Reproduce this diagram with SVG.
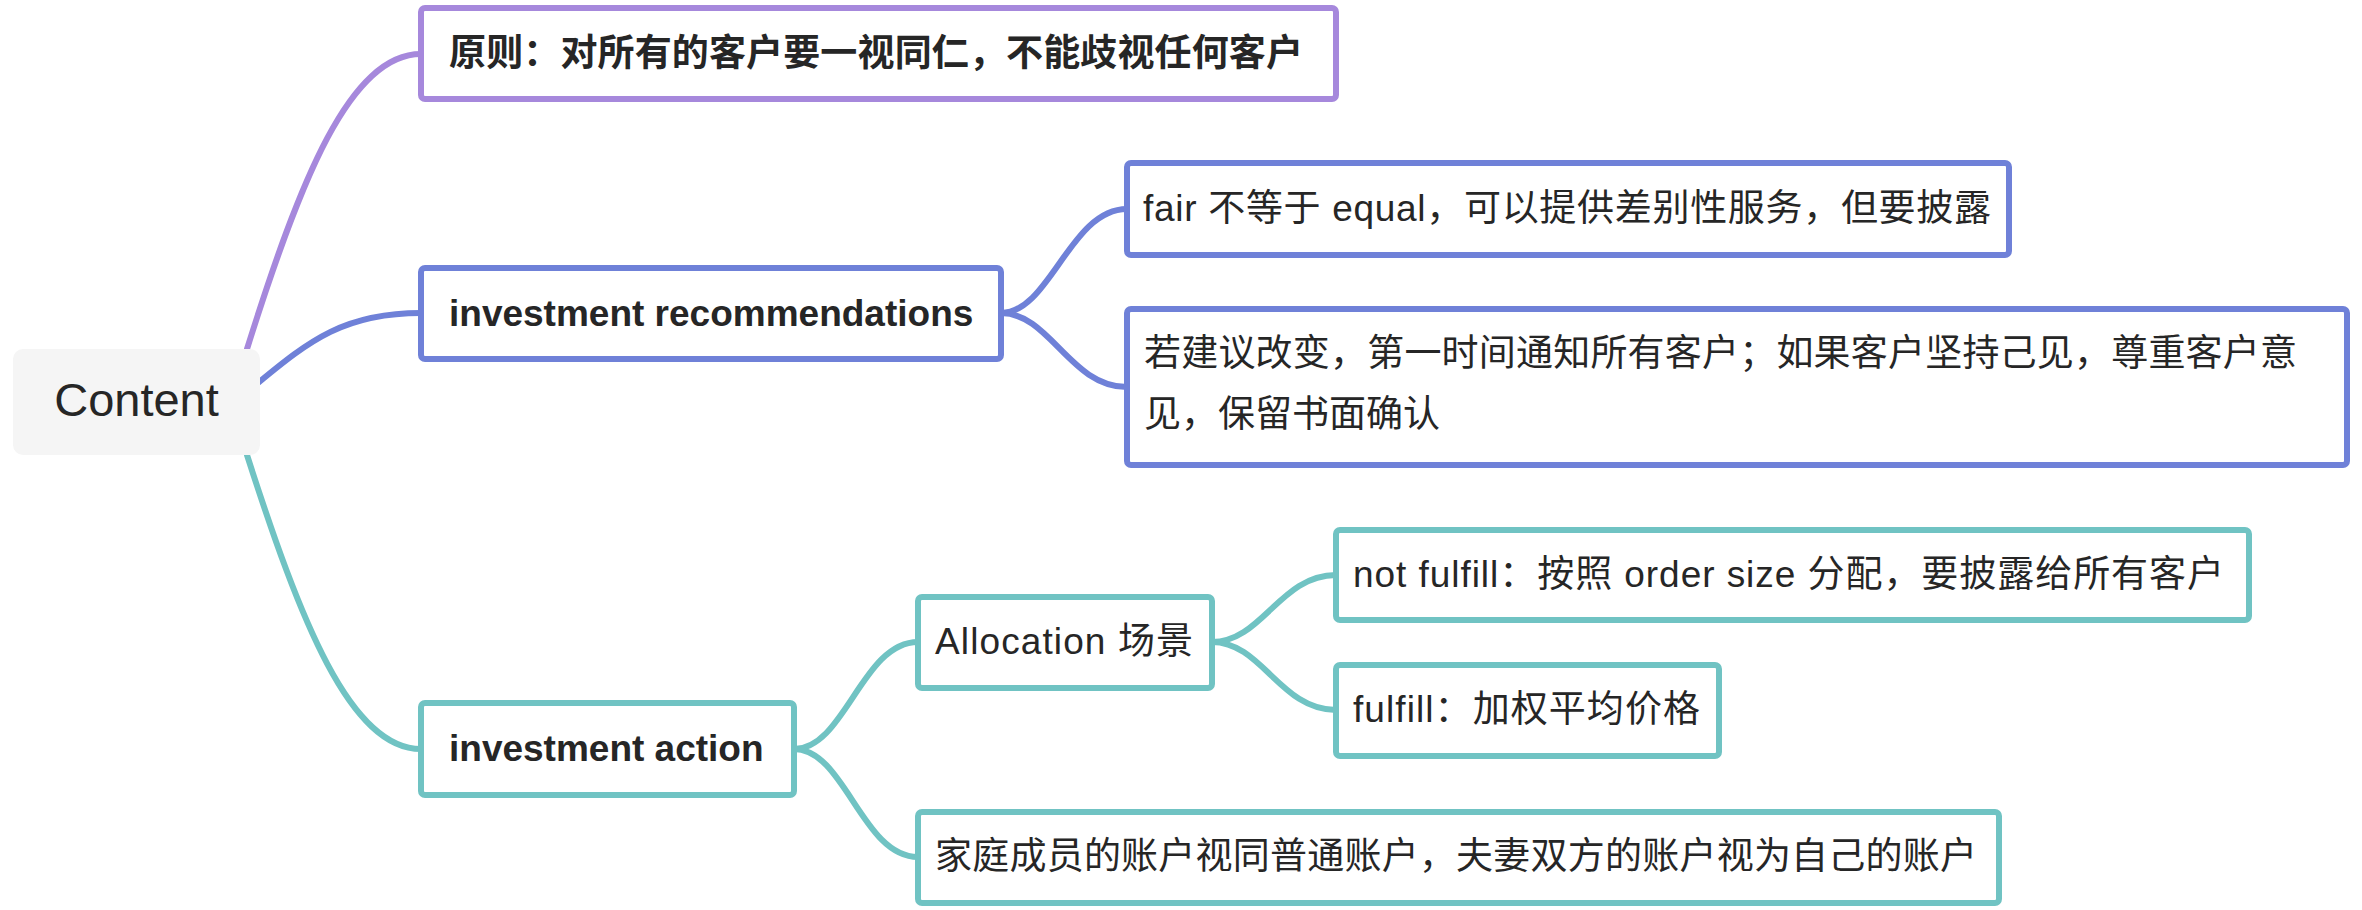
<svg xmlns="http://www.w3.org/2000/svg" width="2362" height="910" viewBox="0 0 2362 910">
<style>
  text { font-family: "Liberation Sans", "Noto Sans CJK SC", sans-serif; fill: #262626; font-size: 37px; }
  .b { font-weight: bold; }
  .root { font-size: 47px; }
  .box { fill: #ffffff; stroke-width: 6; }
  .pu { stroke: #a688dc; }
  .bl { stroke: #6f81d8; }
  .te { stroke: #70c3c3; }
  .ln { fill: none; stroke-width: 6; stroke-linecap: round; }
</style>
<rect width="2362" height="910" fill="#ffffff"/>
<g id="connectors">
  <path class="ln pu" d="M247,349 C300,180 350,54 421,54"/>
  <path class="ln bl" d="M258,383 C310,340 345,313 421,313"/>
  <path class="ln te" d="M247,455 C300,620 350,749 421,749"/>
  <path class="ln bl" d="M1001,313 C1050,313 1070,209 1127,209"/>
  <path class="ln bl" d="M1001,313 C1050,313 1070,387 1127,387"/>
  <path class="ln te" d="M794,749 C845,749 862,642 918,642"/>
  <path class="ln te" d="M794,749 C845,749 862,857 918,857"/>
  <path class="ln te" d="M1212,642 C1262,642 1280,575 1336,575"/>
  <path class="ln te" d="M1212,642 C1262,642 1280,710 1336,710"/>
</g>
<g id="root">
  <rect x="13" y="349" width="247" height="106" rx="10" fill="#f5f5f5"/>
  <text class="root" x="136.5" y="416" text-anchor="middle">Content</text>
</g>
<g id="n-principle">
  <rect class="box pu" x="421" y="8" width="915" height="91" rx="4"/>
  <text class="b" x="449" y="66" textLength="854" lengthAdjust="spacing">原则：对所有的客户要一视同仁，不能歧视任何客户</text>
</g>
<g id="n-recommend">
  <rect class="box bl" x="421" y="268" width="580" height="91" rx="4"/>
  <text class="b" x="449" y="326">investment recommendations</text>
</g>
<g id="n-fair">
  <rect class="box bl" x="1127" y="163" width="882" height="92" rx="4"/>
  <text x="1143" y="221" textLength="848" lengthAdjust="spacing">fair 不等于 equal，可以提供差别性服务，但要披露</text>
</g>
<g id="n-change">
  <rect class="box bl" x="1127" y="309" width="1220" height="156" rx="4"/>
  <text x="1144" y="366" textLength="1153" lengthAdjust="spacing">若建议改变，第一时间通知所有客户；如果客户坚持己见，尊重客户意</text>
  <text x="1144" y="427">见，保留书面确认</text>
</g>
<g id="n-action">
  <rect class="box te" x="421" y="703" width="373" height="92" rx="4"/>
  <text class="b" x="449" y="761">investment action</text>
</g>
<g id="n-allocation">
  <rect class="box te" x="918" y="597" width="294" height="91" rx="4"/>
  <text x="935" y="654" textLength="258" lengthAdjust="spacing">Allocation 场景</text>
</g>
<g id="n-notfulfill">
  <rect class="box te" x="1336" y="530" width="913" height="90" rx="4"/>
  <text x="1353" y="587" textLength="871" lengthAdjust="spacing">not fulfill：按照 order size 分配，要披露给所有客户</text>
</g>
<g id="n-fulfill">
  <rect class="box te" x="1336" y="665" width="383" height="91" rx="4"/>
  <text x="1353" y="722" textLength="347" lengthAdjust="spacing">fulfill：加权平均价格</text>
</g>
<g id="n-family">
  <rect class="box te" x="918" y="812" width="1081" height="91" rx="4"/>
  <text x="935" y="869" textLength="1042" lengthAdjust="spacing">家庭成员的账户视同普通账户，夫妻双方的账户视为自己的账户</text>
</g>
</svg>
